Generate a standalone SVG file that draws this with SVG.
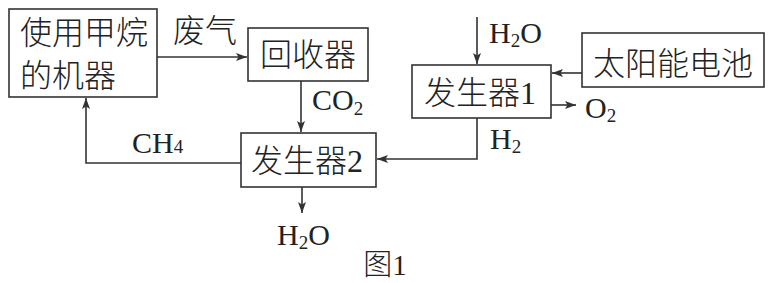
<svg xmlns="http://www.w3.org/2000/svg" width="775" height="283" viewBox="0 0 775 283">
<style>
.box{fill:#fff;stroke:#333;stroke-width:1.6}
.cn{font-family:"Noto Sans CJK SC","Noto Sans CJK TC",sans-serif;font-size:32px;font-weight:300;fill:#222;text-anchor:middle}
.lt{font-family:"Liberation Serif",serif;font-size:30px;fill:#222}
.sub{font-size:19px}
.ln{fill:none;stroke:#333;stroke-width:1.6}
</style>
<defs>
<marker id="ah" markerUnits="userSpaceOnUse" markerWidth="12" markerHeight="10" refX="11" refY="4" orient="auto">
<path d="M0,0 L11,4 L0,8 L2.5,4 z" fill="#333"/>
</marker>
</defs>
<rect width="775" height="283" fill="#fff"/>
<g id="connectors">
<path class="ln" d="M157,57 H247" marker-end="url(#ah)"/>
<path class="ln" d="M301,81 V132" marker-end="url(#ah)"/>
<path class="ln" d="M241,163 H86 V98" marker-end="url(#ah)"/>
<path class="ln" d="M302,187 V213" marker-end="url(#ah)"/>
<path class="ln" d="M477,17 V64" marker-end="url(#ah)"/>
<path class="ln" d="M582,73 H552" marker-end="url(#ah)"/>
<path class="ln" d="M551,105 H576" marker-end="url(#ah)"/>
<path class="ln" d="M477,118 V159 H377" marker-end="url(#ah)"/>
</g>
<g id="labels">
<text class="cn" x="205" y="42">废气</text>
<text class="lt" x="312" y="110">CO<tspan class="sub" dy="5">2</tspan></text>
<text class="lt" x="132" y="153">CH<tspan class="sub">4</tspan></text>
<text class="lt" x="277" y="245">H<tspan class="sub" dy="4">2</tspan><tspan dy="-4">O</tspan></text>
<text class="lt" x="489" y="43">H<tspan class="sub" dy="4">2</tspan><tspan dy="-4">O</tspan></text>
<text class="lt" x="585" y="118">O<tspan class="sub" dy="4">2</tspan></text>
<text class="lt" x="490" y="149">H<tspan class="sub" dy="4">2</tspan></text>
<text class="cn" x="385" y="275" style="font-size:29px">图<tspan font-family="Liberation Serif">1</tspan></text>
</g>
<g id="machine">
<rect class="box" x="9" y="9" width="148" height="88"/>
<text class="cn" x="84" y="44">使用甲烷</text>
<text class="cn" x="68" y="87">的机器</text>
</g>
<g id="recycler">
<rect class="box" x="248" y="28" width="120" height="53"/>
<text class="cn" x="308" y="66">回收器</text>
</g>
<g id="generator2">
<rect class="box" x="241" y="133" width="135" height="54"/>
<text class="cn" x="307" y="172">发生器<tspan font-family="Liberation Serif">2</tspan></text>
</g>
<g id="generator1">
<rect class="box" x="412" y="65" width="139" height="53"/>
<text class="cn" x="480" y="104">发生器<tspan font-family="Liberation Serif">1</tspan></text>
</g>
<g id="solar">
<rect class="box" x="582" y="33" width="182" height="54"/>
<text class="cn" x="673" y="75">太阳能电池</text>
</g>
</svg>
